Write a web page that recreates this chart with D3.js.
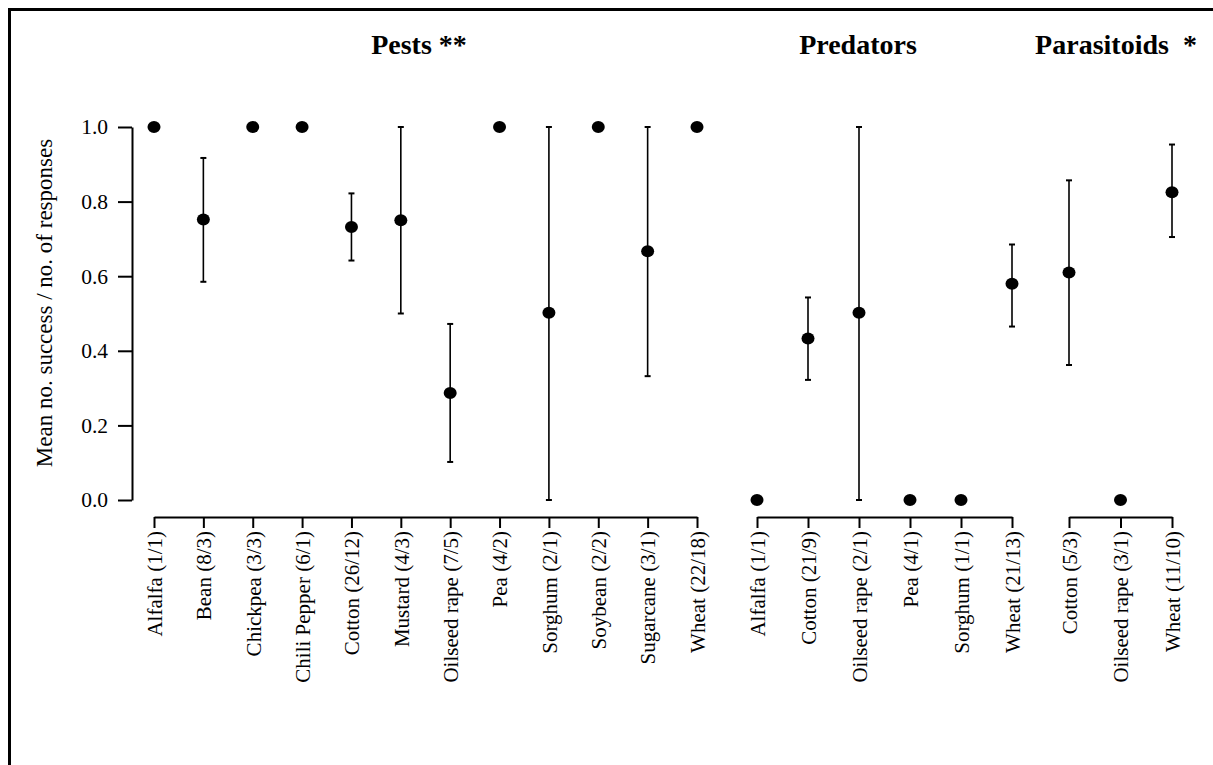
<!DOCTYPE html>
<html>
<head>
<meta charset="utf-8">
<script src="https://cdn.jsdelivr.net/npm/d3@7"></script>
<style>
  body { margin: 0; background: #fff; }
  svg { font-family: "Liberation Serif", "Times New Roman", serif; }
</style>
</head>
<body>
<div id="chart"></div>
<script>
// groups and their titles
const groupNames = ["Pests", "Predators", "Parasitoids"];
const groupTitles = ["Pests **", "Predators", "Parasitoids  *"];

// categories per group (label includes n studies / n responses)
const pestCats = ["Alfalfa (1/1)", "Bean (8/3)", "Chickpea (3/3)", "Chili Pepper (6/1)", "Cotton (26/12)",
  "Mustard (4/3)", "Oilseed rape (7/5)", "Pea (4/2)", "Sorghum (2/1)", "Soybean (2/2)", "Sugarcane (3/1)", "Wheat (22/18)"];
const predCats = ["Alfalfa (1/1)", "Cotton (21/9)", "Oilseed rape (2/1)", "Pea (4/1)", "Sorghum (1/1)", "Wheat (21/13)"];
const paraCats = ["Cotton (5/3)", "Oilseed rape (3/1)", "Wheat (11/10)"];

// means, lower and upper bounds (null = no error bar)
const pestMean = [1.0, 0.752, 1.0, 1.0, 0.732, 0.75, 0.287, 1.0, 0.502, 1.0, 0.667, 1.0];
const pestLow  = [null, 0.585, null, null, 0.642, 0.5, 0.102, null, 0.0, null, 0.332, null];
const pestHigh = [null, 0.917, null, null, 0.822, 1.0, 0.472, null, 1.0, null, 1.0, null];

const predMean = [0.0, 0.433, 0.502, 0.0, 0.0, 0.58];
const predLow  = [null, 0.322, 0.0, null, null, 0.465];
const predHigh = [null, 0.543, 1.0, null, null, 0.685];

const paraMean = [0.61, 0.0, 0.825];
const paraLow  = [0.362, null, 0.705];
const paraHigh = [0.857, null, 0.953];

const yTicks = [0, 0.2, 0.4, 0.6, 0.8, 1.0];

const W = 1213, H = 765;
const svg = d3.select("#chart").append("svg")
  .attr("width", W).attr("height", H);

// frame (runs off right / bottom like the original)
svg.append("rect")
  .attr("x", 9.5).attr("y", 9.5)
  .attr("width", W + 20).attr("height", H + 20)
  .attr("fill", "none").attr("stroke", "#000").attr("stroke-width", 3);

const y = d3.scaleLinear().domain([0, 1]).range([500, 127]);

// y axis
const yAxis = svg.append("g").attr("transform", "translate(132,0)")
  .call(d3.axisLeft(y).tickValues(yTicks).tickFormat(d3.format(".1f")).tickSize(14).tickSizeOuter(0).tickPadding(10));
yAxis.select(".domain").attr("stroke-width", 2);
yAxis.selectAll(".tick line").attr("stroke-width", 2);
yAxis.selectAll(".tick text").attr("font-size", 21.5).attr("fill", "#000").attr("font-family", "Liberation Serif");

svg.append("text")
  .attr("transform", "translate(52,303) rotate(-90)")
  .attr("text-anchor", "middle")
  .attr("font-size", 23)
  .text("Mean no. success / no. of responses");

const groups = [
  { cats: pestCats, mean: pestMean, low: pestLow, high: pestHigh, range: [154, 697], title: 419 },
  { cats: predCats, mean: predMean, low: predLow, high: predHigh, range: [757, 1012], title: 858 },
  { cats: paraCats, mean: paraMean, low: paraLow, high: paraHigh, range: [1069, 1172], title: 1116 }
];

groups.forEach((g, gi) => {
  const x = d3.scalePoint().domain(g.cats).range(g.range);

  // bracket-style x axis
  const xAxis = svg.append("g").attr("transform", "translate(0,517)")
    .call(d3.axisBottom(x).tickSize(11).tickSizeOuter(0).tickPadding(4));
  xAxis.select(".domain").attr("stroke-width", 2);
  xAxis.selectAll(".tick line").attr("stroke-width", 2);
  xAxis.selectAll(".tick text")
    .attr("font-size", 21).attr("fill", "#000").attr("font-family", "Liberation Serif")
    .attr("text-anchor", "end")
    .attr("transform", "rotate(-90)")
    .attr("x", -14).attr("y", 0).attr("dy", "0.35em");

  const rows = g.cats.map((c, i) => ({ c: c, m: g.mean[i], lo: g.low[i], hi: g.high[i] }));

  // error bars
  const eb = svg.append("g").selectAll("g")
    .data(rows.filter(d => d.lo !== null)).enter().append("g");
  eb.append("line")
    .attr("x1", d => x(d.c)).attr("x2", d => x(d.c))
    .attr("y1", d => y(d.lo)).attr("y2", d => y(d.hi))
    .attr("stroke", "#000").attr("stroke-width", 1.6);
  eb.append("line")
    .attr("x1", d => x(d.c) - 3).attr("x2", d => x(d.c) + 3)
    .attr("y1", d => y(d.lo)).attr("y2", d => y(d.lo))
    .attr("stroke", "#000").attr("stroke-width", 2);
  eb.append("line")
    .attr("x1", d => x(d.c) - 3).attr("x2", d => x(d.c) + 3)
    .attr("y1", d => y(d.hi)).attr("y2", d => y(d.hi))
    .attr("stroke", "#000").attr("stroke-width", 2);

  // means
  svg.append("g").selectAll("ellipse")
    .data(rows).enter().append("ellipse")
    .attr("cx", d => x(d.c)).attr("cy", d => y(d.m))
    .attr("rx", 6.5).attr("ry", 6)
    .attr("fill", "#000");

  svg.append("text")
    .attr("x", g.title).attr("y", 54)
    .attr("text-anchor", "middle")
    .attr("font-weight", "bold")
    .attr("font-size", 28)
    .style("white-space", "pre")
    .text(groupTitles[gi]);
});
</script>
</body>
</html>
